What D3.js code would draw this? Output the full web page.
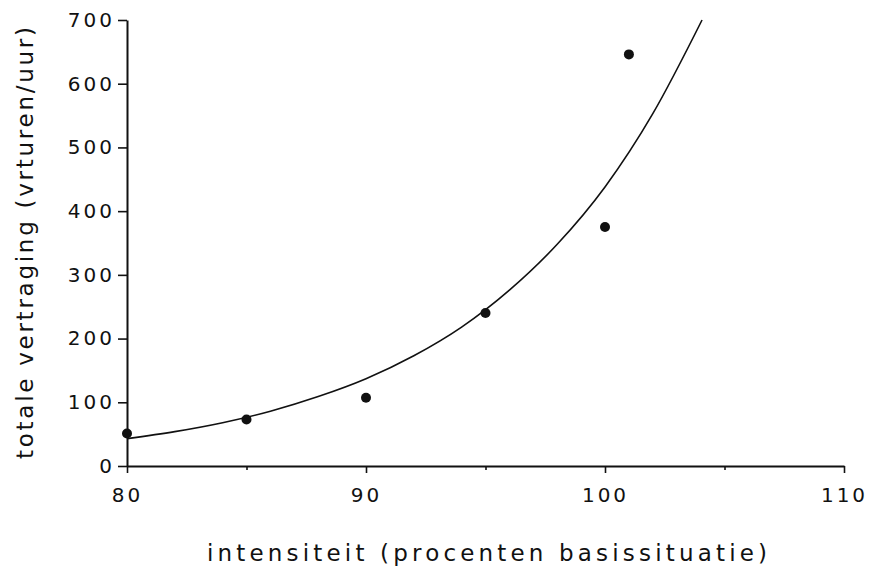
<!DOCTYPE html>
<html>
<head>
<meta charset="utf-8">
<script src="https://cdn.jsdelivr.net/npm/d3@7"></script>
<style>
  body { margin: 0; background: #fff; }
  svg text { font-family: "DejaVu Sans", sans-serif; fill: #111; }
</style>
</head>
<body>
<svg id="chart" width="872" height="568"></svg>
<script>
// measured points (intensity %, total delay in vehicle-hours/hour)
const intensity = [80, 85, 90, 95, 100, 101];
const delay = [51, 73, 107, 240, 375, 646];

// fitted curve
const curveX = [80, 82, 84, 86, 88, 90, 92, 94, 96, 98, 100, 102, 104.06];
const curveY = [43, 54, 68, 86, 109, 137, 173, 218, 276, 348, 438, 553, 700];

const yTicks = [0, 100, 200, 300, 400, 500, 600, 700];
const xTicks = [80, 85, 90, 95, 100, 105, 110];
const xLabels = [80, 90, 100, 110];

const svg = d3.select("#chart");
const x = d3.scaleLinear().domain([80, 110]).range([127, 844]);
const y = d3.scaleLinear().domain([0, 700]).range([466, 20]);

const ink = "#111";

// y axis
const yAxis = svg.append("g")
  .attr("transform", `translate(${x(80)},0)`)
  .call(d3.axisLeft(y).tickValues(yTicks).tickSize(9).tickSizeOuter(0).tickPadding(3));
yAxis.select(".domain").attr("stroke", ink).attr("stroke-width", 2);
yAxis.selectAll(".tick line").attr("stroke", ink).attr("stroke-width", 1.6);
yAxis.selectAll(".tick text")
  .attr("font-size", 20)
  .attr("letter-spacing", 3)
  .attr("font-family", "DejaVu Sans")
  .attr("fill", ink);

// x axis
const xAxis = svg.append("g")
  .attr("transform", `translate(0,${y(0)})`)
  .call(d3.axisBottom(x).tickValues(xTicks).tickSize(6).tickSizeOuter(0).tickPadding(16)
    .tickFormat((d) => (xLabels.includes(d) ? d : "")));
xAxis.select(".domain").attr("stroke", ink).attr("stroke-width", 2);
xAxis.selectAll(".tick line")
  .attr("stroke", ink)
  .attr("stroke-width", 1.6)
  .attr("y2", (d) => (xLabels.includes(d) ? 7 : 4));
xAxis.selectAll(".tick text")
  .attr("font-size", 20)
  .attr("letter-spacing", 3)
  .attr("font-family", "DejaVu Sans")
  .attr("fill", ink);

// fitted curve
const line = d3.line()
  .x((d, i) => x(curveX[i]))
  .y((d) => y(d))
  .curve(d3.curveMonotoneX);

svg.append("path")
  .datum(curveY)
  .attr("fill", "none")
  .attr("stroke", ink)
  .attr("stroke-width", 1.6)
  .attr("d", line);

// observations
svg.append("g")
  .selectAll("circle")
  .data(intensity)
  .join("circle")
  .attr("cx", (d) => x(d))
  .attr("cy", (d, i) => y(delay[i]))
  .attr("r", 5)
  .attr("fill", ink);

// axis titles
svg.append("text")
  .attr("x", 207)
  .attr("y", 561)
  .attr("font-size", 23)
  .attr("textLength", 560)
  .attr("lengthAdjust", "spacing")
  .text("intensiteit (procenten basissituatie)");

svg.append("text")
  .attr("transform", "translate(33,243) rotate(-90)")
  .attr("text-anchor", "middle")
  .attr("font-size", 23)
  .attr("textLength", 432)
  .attr("lengthAdjust", "spacing")
  .text("totale vertraging (vrturen/uur)");
</script>
</body>
</html>
